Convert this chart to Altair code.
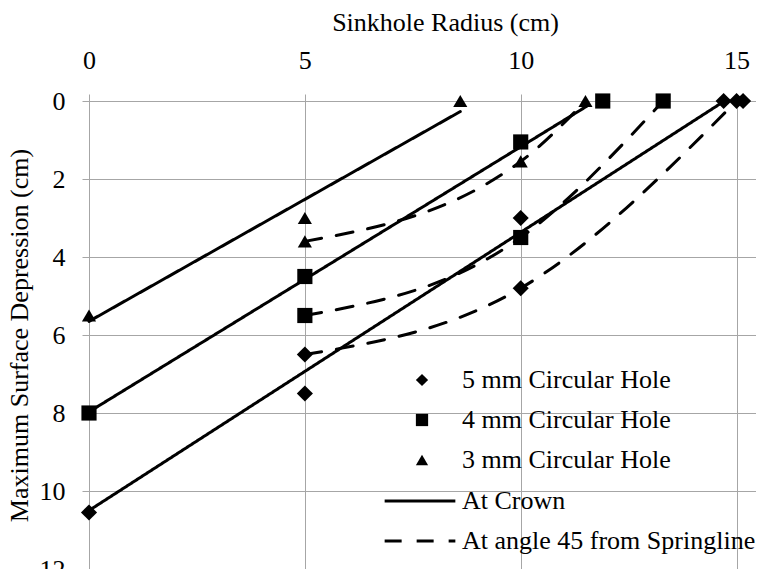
import altair as alt
import pandas as pd

# ---- marker data (Sinkhole radius x, Max surface depression y) ----
holes = ["5 mm Circular Hole", "4 mm Circular Hole", "3 mm Circular Hole"]
d5_x = [0, 5, 5, 10, 10, 14.7, 15.0, 15.15]
d5_y = [10.55, 7.5, 6.5, 3.0, 4.8, 0, 0, 0]
s4_x = [0, 5, 5, 10, 10, 11.9, 13.3]
s4_y = [8.0, 4.5, 5.5, 1.05, 3.5, 0, 0]
t3_x = [0, 5, 5, 10, 8.6, 11.5]
t3_y = [5.5, 3.0, 3.6, 1.55, 0, 0]

# ---- "At Crown" straight lines ----
crown3_x = [0, 8.6]
crown3_y = [5.65, 0.27]
crown4_x = [0, 11.55]
crown4_y = [7.97, 0.12]
crown5_x = [0, 14.72]
crown5_y = [10.5, 0.0]

# ---- "At angle 45 from Springline" smoothed lines ----
sp3_x = [5, 10, 11.5]
sp3_y = [3.6, 1.55, 0]
sp4_x = [5, 10, 13.3]
sp4_y = [5.5, 3.5, 0]
sp5_x = [5, 10, 15.0]
sp5_y = [6.5, 4.8, 0]

kinds = ["At Crown", "At angle 45 from Springline"]
x_ticks = [0, 5, 10, 15]
y_ticks = [0, 2, 4, 6, 8, 10, 12]

FONT = "Liberation Serif, Times New Roman, DejaVu Serif, serif"
GRAY = "#a6a6a6"

rows = []
for name, xs, ys in [(holes[0], d5_x, d5_y), (holes[1], s4_x, s4_y), (holes[2], t3_x, t3_y)]:
    for a, b in zip(xs, ys):
        rows.append({"hole": name, "x": a, "y": b})
points_df = pd.DataFrame(rows)

lrows = []
for lid, kind, xs, ys in [
    ("c3", kinds[0], crown3_x, crown3_y),
    ("c4", kinds[0], crown4_x, crown4_y),
    ("c5", kinds[0], crown5_x, crown5_y),
    ("s3", kinds[1], sp3_x, sp3_y),
    ("s4", kinds[1], sp4_x, sp4_y),
    ("s5", kinds[1], sp5_x, sp5_y),
]:
    for i, (a, b) in enumerate(zip(xs, ys)):
        lrows.append({"line": lid, "kind": kind, "x": a, "y": b, "o": i})
lines_df = pd.DataFrame(lrows)

xscale = alt.Scale(domain=[0, 15.45], nice=False, zero=False)
yscale = alt.Scale(domain=[0, 12], nice=False, reverse=True)

xaxis = alt.Axis(
    orient="top", values=x_ticks, title="Sinkhole Radius (cm)", grid=True,
    gridColor=GRAY, gridWidth=1, tickColor=GRAY, domainColor=GRAY, tickSize=7,
    labelPadding=21, labelFlush=False, labelOverlap=False,
    labelFont=FONT, labelFontSize=26, labelColor="black",
    titleFont=FONT, titleFontSize=26, titleFontWeight="normal", titleColor="black",
    titleX=356, titleY=-71, titleBaseline="alphabetic", titleAlign="center",
)
yaxis = alt.Axis(
    orient="left", values=y_ticks, title="Maximum Surface Depression (cm)", grid=True,
    gridColor=GRAY, gridWidth=1, tickColor=GRAY, domainColor=GRAY, tickSize=7,
    labelPadding=17, labelFlush=False, labelOverlap=False,
    labelFont=FONT, labelFontSize=26, labelColor="black",
    titleFont=FONT, titleFontSize=26, titleFontWeight="normal", titleColor="black",
    titleX=-62, titleY=234, titleAngle=270, titleBaseline="alphabetic", titleAlign="center",
)

lines = alt.Chart(lines_df).mark_line(
    color="black", strokeWidth=3, interpolate="monotone", strokeCap="round"
).encode(
    x=alt.X("x:Q", scale=xscale, axis=xaxis),
    y=alt.Y("y:Q", scale=yscale, axis=yaxis),
    detail="line:N",
    order="o:Q",
    strokeDash=alt.StrokeDash(
        "kind:N",
        scale=alt.Scale(domain=kinds, range=[[1, 0], [17, 15]]),
        legend=alt.Legend(
            title=None, orient="none", legendX=318, legendY=387, padding=0,
            symbolType="M-5,0H5", symbolSize=200, symbolStrokeWidth=3,
            symbolStrokeColor="black", symbolFillColor="transparent",
            labelOffset=29, rowPadding=14,
            labelFont=FONT, labelFontSize=26, labelColor="black", labelLimit=400,
        ),
    ),
)

pts = alt.Chart(points_df).mark_point(filled=True, opacity=1, color="black", strokeWidth=0).encode(
    x=alt.X("x:Q", scale=xscale),
    y=alt.Y("y:Q", scale=yscale),
    shape=alt.Shape(
        "hole:N",
        scale=alt.Scale(domain=holes, range=["diamond", "square", "triangle-up"]),
        legend=alt.Legend(
            title=None, orient="none", legendX=320, legendY=266, padding=0,
            symbolSize=150, symbolFillColor="black", symbolStrokeWidth=0,
            labelOffset=27, rowPadding=14,
            labelFont=FONT, labelFontSize=26, labelColor="black", labelLimit=400,
        ),
    ),
    size=alt.Size("hole:N", scale=alt.Scale(domain=holes, range=[260, 200, 250]), legend=None),
)

chart = alt.layer(lines, pts).resolve_legend(shape="independent", strokeDash="independent").properties(
    width=667, height=468,
    padding={"left": 81, "top": 93, "right": 0, "bottom": 0},
    autosize="none",
).configure_view(strokeWidth=0)

chart.save("out.html", embed_options={"renderer": "svg", "actions": False})
